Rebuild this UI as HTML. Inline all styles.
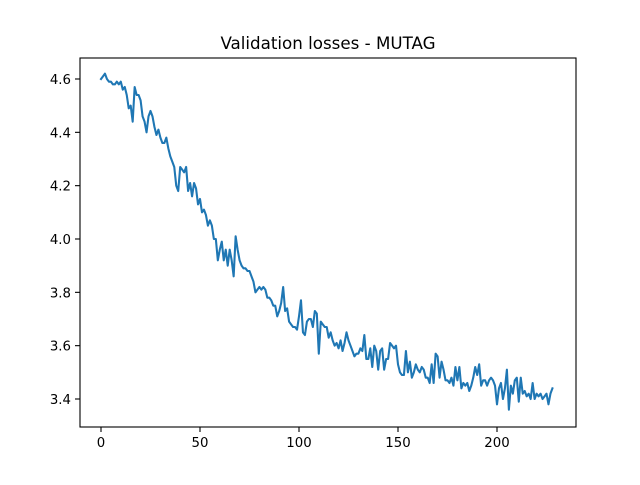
<!DOCTYPE html>
<html><head><meta charset="utf-8"><style>
body{margin:0;background:#fff;}
svg text{font-family:"DejaVu Sans","Liberation Sans",sans-serif;}
</style></head><body>
<svg id="chart" width="640" height="480">
<rect width="640" height="480" fill="#fff"/>
<text x="328" y="49" text-anchor="middle" font-size="16.7">Validation losses - MUTAG</text>
<g id="ticks"></g>
<polyline id="line" fill="none" stroke="#1f77b4" stroke-width="2.08" stroke-linejoin="round" stroke-linecap="square"/>
<rect x="80" y="58" width="496" height="369" fill="none" stroke="#000" stroke-width="1.1"/>
</svg>
<script>
const losses=[4.60,4.61,4.62,4.60,4.59,4.59,4.58,4.58,4.59,4.58,4.59,4.56,4.57,4.54,4.49,4.50,4.44,4.57,4.54,4.54,4.52,4.46,4.44,4.40,4.46,4.48,4.46,4.42,4.39,4.41,4.38,4.36,4.36,4.38,4.34,4.31,4.29,4.27,4.20,4.18,4.27,4.26,4.25,4.27,4.18,4.21,4.16,4.21,4.19,4.13,4.15,4.10,4.11,4.09,4.05,4.07,4.05,4.00,4.00,3.92,3.96,3.99,3.92,3.96,3.90,3.96,3.92,3.86,4.01,3.96,3.92,3.90,3.89,3.89,3.88,3.88,3.86,3.84,3.80,3.81,3.82,3.81,3.82,3.81,3.78,3.78,3.77,3.75,3.75,3.71,3.73,3.76,3.82,3.73,3.74,3.69,3.68,3.67,3.67,3.66,3.71,3.77,3.65,3.64,3.69,3.70,3.70,3.67,3.73,3.72,3.57,3.69,3.68,3.67,3.67,3.63,3.65,3.62,3.60,3.61,3.59,3.62,3.58,3.61,3.65,3.62,3.60,3.58,3.56,3.57,3.57,3.59,3.58,3.64,3.55,3.55,3.59,3.52,3.60,3.58,3.51,3.58,3.59,3.51,3.55,3.55,3.61,3.60,3.59,3.60,3.53,3.50,3.49,3.49,3.58,3.50,3.54,3.48,3.50,3.53,3.51,3.50,3.52,3.51,3.48,3.48,3.46,3.53,3.46,3.57,3.56,3.48,3.54,3.51,3.47,3.47,3.46,3.48,3.45,3.52,3.47,3.52,3.44,3.46,3.45,3.46,3.43,3.45,3.48,3.52,3.49,3.53,3.45,3.47,3.47,3.45,3.47,3.48,3.47,3.45,3.38,3.44,3.46,3.40,3.44,3.51,3.36,3.45,3.42,3.47,3.48,3.39,3.48,3.42,3.43,3.41,3.42,3.40,3.46,3.40,3.42,3.41,3.42,3.40,3.41,3.42,3.38,3.42,3.44];
const xTicks=[0,50,100,150,200];
const yTicks=[3.4,3.6,3.8,4.0,4.2,4.4,4.6];
const xs=v=>101+(v)*1.98;
const ys=v=>399-(v-3.4)*266.67;
const NS='http://www.w3.org/2000/svg';
const g=document.getElementById('ticks');
function mk(tag,attrs){const e=document.createElementNS(NS,tag);for(const k in attrs)e.setAttribute(k,attrs[k]);g.appendChild(e);return e;}
xTicks.forEach(t=>{
 const l=mk('line',{x1:xs(t),x2:xs(t),y1:427,y2:432,stroke:'#000','stroke-width':1.1});
 
 
 const tx=mk('text',{x:xs(t),y:447,'text-anchor':'middle','font-size':13.3});
 tx.textContent=t;
 
 
});
yTicks.forEach(t=>{
 const l=mk('line',{x1:75,x2:80,y1:ys(t),y2:ys(t),stroke:'#000','stroke-width':1.1});
 
 
 const tx=mk('text',{x:71,y:ys(t)+5,'text-anchor':'end','font-size':13.3});
 tx.textContent=t.toFixed(1);
 
 
});
document.getElementById('line').setAttribute('points',losses.map((v,i)=>xs(i).toFixed(2)+','+ys(v).toFixed(2)).join(' '));
</script>
</body></html>
